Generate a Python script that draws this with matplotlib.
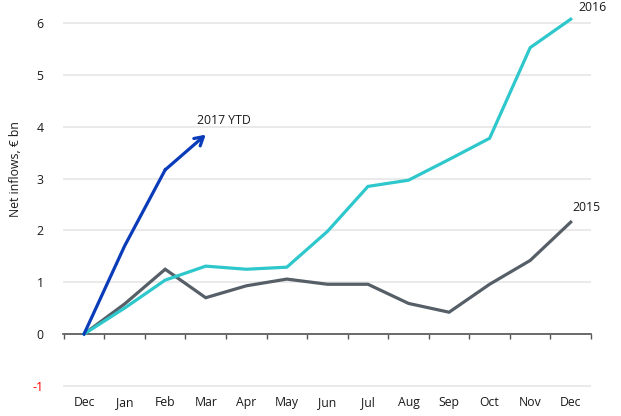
import numpy as np
import matplotlib
matplotlib.use("Agg")
import matplotlib.pyplot as plt

# ---------- Dados ----------
months = ["Dec", "Jan", "Feb", "Mar", "Apr", "May", "Jun",
          "Jul", "Aug", "Sep", "Oct", "Nov", "Dec"]
flows_2015 = [0, 0.58, 1.25, 0.70, 0.93, 1.06, 0.96, 0.96, 0.59, 0.42, 0.96, 1.42, 2.16]
flows_2016 = [0, 0.50, 1.04, 1.31, 1.25, 1.29, 1.98, 2.85, 2.97, 3.37, 3.78, 5.53, 6.08]
flows_2017 = [0, 1.70, 3.17, 3.85]
yticks = [-1, 0, 1, 2, 3, 4, 5, 6]

C_2015 = "#565f67"
C_2016 = "#2ec8cc"
C_2017 = "#0a3cba"
FS = 8.8

plt.rcParams["font.family"] = ["Open Sans", "DejaVu Sans"]

fig = plt.figure(figsize=(6.21, 4.16), dpi=100)
ax = fig.add_axes([0.1014, 0.0603, 0.8503, 0.9272])

x = np.arange(len(months))

ax.plot(x, flows_2015, color=C_2015, lw=2.3, solid_joinstyle="miter", zorder=3)
ax.plot(x, flows_2016, color=C_2016, lw=2.3, solid_joinstyle="miter", zorder=3)
n17 = len(flows_2017)
ax.plot(x[:n17 - 1], flows_2017[:-1], color=C_2017, lw=2.3, zorder=4)
ax.annotate("", xy=(x[n17 - 1], flows_2017[-1]), xytext=(x[n17 - 2], flows_2017[-2]),
            arrowprops=dict(arrowstyle="->,head_length=0.6,head_width=0.35",
                            color=C_2017, lw=2.3, shrinkA=0, shrinkB=0), zorder=4)

# rótulos das séries
ax.text(2.79, 4.13, "2017 YTD", fontsize=FS, ha="left", va="center", color="#1a1a1a")
ax.text(12.18, 6.31, "2016", fontsize=FS, ha="left", va="center", color="#1a1a1a", clip_on=False)
ax.text(12.03, 2.45, "2015", fontsize=FS, ha="left", va="center", color="#1a1a1a")

# ---------- Eixos ----------
ax.set_xlim(-0.52, 12.5)
ax.set_ylim(-1.1, 6.35)
ax.set_yticks(yticks)
ax.set_yticklabels([str(v) for v in yticks])
ax.tick_params(axis="y", length=0, pad=14, labelsize=FS, labelcolor="#1a1a1a")
for lab, v in zip(ax.get_yticklabels(), yticks):
    if v < 0:
        lab.set_color("#ff0000")
ax.grid(axis="y", color="#e6e6e6", lw=1.2, zorder=0)
ax.set_axisbelow(True)

for side in ["top", "right", "left"]:
    ax.spines[side].set_visible(False)
ax.spines["bottom"].set_position(("data", 0))
ax.spines["bottom"].set_color("#555555")
ax.spines["bottom"].set_linewidth(1.2)
ax.spines["bottom"].set_zorder(2)

ax.set_xticks(x)
ax.set_xticklabels(months)
ax.set_xticks(np.arange(-0.5, 12.6, 1), minor=True)
ax.tick_params(axis="x", which="major", length=0, pad=45, labelsize=FS, labelcolor="#1a1a1a")
ax.tick_params(axis="x", which="minor", length=3.5, width=1.0, color="#555555", direction="out")

ax.set_ylabel("Net inflows, € bn", fontsize=FS, color="#1a1a1a")
ax.yaxis.set_label_coords(-0.078, 0.575)

fig.savefig("out.png", dpi=100)
